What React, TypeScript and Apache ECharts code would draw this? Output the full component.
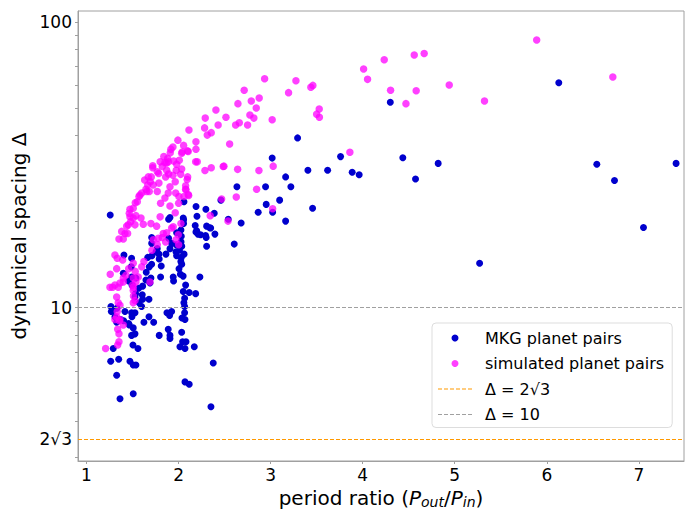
import React, { useEffect, useRef } from "react";
import * as echarts from "echarts";

const TWO_SQRT3 = 2 * Math.sqrt(3);

const xTicks = [1, 2, 3, 4, 5, 6, 7];
const yLabelTicks = [TWO_SQRT3, 10, 100];
const yMinorTicks = [3, 4, 5, 6, 7, 8, 9, 10, 20, 30, 40, 50, 60, 70, 80, 90, 100];

// [period ratio, dynamical spacing]
const mkgPairs: number[][] = [
  [4.30, 52.4], [6.13, 61.3], [3.76, 33.8], [3.886, 29.8], [3.962, 29.2], [4.436, 33.5], [4.574, 28.2],
  [4.82, 32.0], [6.543, 31.8], [6.735, 27.9], [7.404, 32.0], [7.05, 19.1], [5.27, 14.3],
  [3.293, 39.3], [3.017, 33.4], [3.405, 30.3], [3.619, 30.3], [3.163, 28.7], [3.22, 26.5], [2.945, 26.5],
  [2.634, 26.5], [3.098, 23.8], [2.952, 23.0], [2.865, 21.6], [3.022, 21.6], [3.163, 20.1], [3.456, 22.3],
  [2.46, 23.8], [2.059, 23.5], [2.19, 22.6], [2.2, 20.9], [2.388, 21.4], [2.54, 20.4], [2.68, 19.8],
  [2.338, 19.05], [2.294, 17.9], [2.395, 18.1], [2.181, 19.4], [2.197, 18.6], [2.211, 18.1], [2.605, 16.7],
  [2.305, 16.4], [1.258, 21.1], [2.051, 20.6], [2.297, 22.1], [2.189, 18.4], [2.24, 18.0], [2.305, 19.3],
  [2.349, 19.0], [2.30, 17.6], [1.907, 20.7], [2.055, 20.3], [2.055, 19.7], [2.026, 18.7], [1.979, 18.3],
  [1.708, 17.6], [1.708, 16.8], [1.892, 17.5], [1.925, 16.8], [1.975, 16.6], [2.03, 17.8], [2.027, 17.0],
  [2.035, 16.4], [2.01, 15.9], [2.06, 15.4], [2.03, 15.0], [2.025, 14.5], [2.035, 14.2], [2.005, 13.7],
  [1.787, 15.4], [1.79, 14.8], [1.863, 15.4], [1.907, 16.1], [1.972, 15.7], [1.979, 15.2], [1.665, 15.0],
  [1.711, 15.2], [1.755, 15.7], [1.708, 14.2], [1.649, 13.3], [1.682, 13.9], [1.812, 14.0], [1.805, 12.8],
  [1.70, 12.7], [1.646, 12.5], [1.69, 12.2], [1.61, 11.9], [1.942, 12.8], [1.946, 12.4], [2.02, 13.1],
  [2.05, 12.9], [2.077, 12.0], [2.232, 12.8], [1.407, 15.3], [1.49, 14.9], [1.486, 13.9], [1.40, 13.2],
  [1.49, 12.8], [1.537, 12.7], [1.458, 12.4], [1.494, 12.0], [1.567, 11.7], [1.534, 11.2], [1.606, 11.1],
  [1.61, 10.7], [1.527, 10.9], [2.051, 11.4], [2.116, 11.3], [2.186, 11.2], [2.066, 10.8], [2.058, 10.4],
  [2.066, 10.1], [1.266, 10.1], [1.288, 9.8], [1.27, 9.7], [1.331, 9.95], [1.573, 10.4], [1.599, 10.1],
  [1.527, 9.6], [1.494, 9.3], [1.458, 8.8], [1.679, 10.7], [1.874, 9.6], [1.925, 9.7], [1.903, 9.4],
  [1.371, 9.1], [1.404, 9.0], [1.624, 8.9], [1.73, 8.9], [2.037, 9.2], [2.07, 9.1], [1.309, 9.3],
  [1.328, 8.9], [1.418, 9.7], [1.49, 9.6], [1.465, 8.7], [1.508, 8.5], [1.527, 8.1], [1.49, 8.0],
  [1.559, 7.2], [1.505, 7.4], [1.291, 7.2], [1.263, 6.5], [1.35, 6.6], [1.328, 5.8], [1.364, 4.8],
  [1.508, 5.0], [1.472, 6.5], [1.508, 6.3], [1.537, 6.3], [1.679, 9.3], [1.79, 8.0], [1.907, 8.0],
  [1.888, 8.4], [1.907, 7.8], [2.015, 7.3], [2.07, 7.2], [2.171, 7.3], [2.034, 8.2], [2.081, 7.6],
  [2.066, 9.6], [2.044, 7.6], [2.377, 6.4], [2.07, 5.5], [2.116, 5.4], [2.352, 4.5], [1.892, 20.4],
  [1.769, 16.1],
];

const simulatedPairs: number[][] = [
  [3.861, 35.0], [4.01, 68.5], [4.053, 63.0], [4.234, 73.8], [4.303, 57.7], [4.47, 51.8], [4.56, 76.7],
  [4.668, 77.6], [4.581, 57.5], [4.94, 60.2], [5.323, 52.9], [5.89, 86.5], [6.717, 64.2],
  [2.935, 63.3], [3.275, 62.3], [3.195, 56.6], [3.437, 59.1], [3.459, 60.0], [3.528, 49.6], [3.50, 47.6],
  [3.53, 46.4], [2.713, 57.7], [2.79, 52.9], [2.876, 54.2], [2.844, 50.0], [2.645, 51.8], [2.775, 47.3],
  [2.818, 46.1], [2.75, 43.6], [2.62, 43.6], [2.66, 44.4], [3.017, 45.5], [2.406, 49.2], [2.29, 46.1],
  [2.515, 46.4], [2.43, 43.6], [2.283, 42.6], [2.355, 41.0], [2.312, 40.2], [2.113, 41.9], [1.993, 38.6],
  [2.555, 37.4], [1.917, 35.9], [1.939, 36.5], [2.055, 37.0], [2.04, 35.1], [2.098, 35.4], [2.189, 38.1],
  [2.189, 35.9], [1.84, 33.8], [1.72, 31.4], [1.72, 30.9], [1.80, 32.4], [1.87, 32.1], [1.89, 32.4],
  [1.947, 32.6], [2.008, 32.8], [1.975, 30.3], [2.186, 32.4], [2.203, 32.4], [2.287, 30.2], [2.355, 30.9],
  [2.485, 31.2], [2.642, 30.5], [2.873, 30.2], [3.028, 31.3], [2.848, 26.0], [2.627, 24.4], [2.468, 24.0],
  [3.022, 22.2], [2.537, 20.1], [2.344, 21.0], [1.632, 28.0], [1.671, 28.7], [1.725, 26.9], [1.654, 25.5],
  [1.581, 24.8], [1.552, 23.5], [1.508, 22.3], [1.472, 20.8], [1.454, 19.5], [1.418, 18.2], [1.353, 17.4],
  [1.309, 15.3], [1.784, 29.5], [1.86, 28.7], [1.907, 26.5], [1.969, 25.2], [2.099, 28.7], [2.077, 26.0],
  [2.11, 24.7], [2.023, 29.3], [2.034, 30.6], [1.80, 20.8], [1.942, 19.2], [1.997, 18.0], [1.834, 18.2],
  [1.725, 17.3], [2.493, 31.3], [2.105, 35.2], [2.034, 34.7], [1.979, 31.8], [1.91, 34.9], [1.882, 33.3],
  [1.852, 32.2], [1.823, 31.2], [1.871, 30.3], [1.892, 29.4], [1.939, 29.1], [1.964, 27.6], [2.094, 28.1],
  [2.077, 26.7], [2.105, 24.9], [1.769, 29.9], [1.704, 28.7], [1.693, 27.6], [1.665, 26.9], [1.646, 26.0],
  [1.682, 25.5], [1.60, 25.2], [1.57, 24.5], [1.53, 23.3], [1.787, 27.3], [1.769, 25.5], [1.805, 23.2],
  [1.852, 24.2], [1.888, 25.2], [1.907, 22.7], [2.001, 23.2], [2.004, 24.5], [2.059, 24.5], [2.08, 25.9],
  [2.026, 19.7], [1.964, 21.5], [1.472, 22.1], [1.465, 21.4], [1.508, 20.6], [1.537, 21.0], [1.592, 20.6],
  [1.617, 19.6], [1.527, 19.5], [1.48, 20.0], [1.436, 19.3], [1.382, 18.5], [1.40, 17.4], [1.447, 18.2],
  [1.70, 19.7], [1.762, 19.3], [1.78, 17.5], [1.823, 17.6], [1.871, 18.3], [1.86, 17.0], [1.769, 16.6],
  [1.711, 15.9], [1.925, 19.0], [1.972, 17.3], [2.001, 16.6], [1.334, 14.9], [1.393, 14.7], [1.328, 13.7],
  [1.258, 13.1], [1.284, 11.8], [1.345, 11.8], [1.40, 12.7], [1.429, 13.0], [1.458, 13.7], [1.508, 14.3],
  [1.53, 13.4], [1.508, 12.7], [1.502, 12.0], [1.537, 12.3], [1.562, 12.8], [1.60, 13.9], [1.624, 14.5],
  [1.508, 11.5], [1.527, 10.6], [1.328, 10.9], [1.345, 10.4], [1.334, 9.7], [1.364, 9.1], [1.40, 8.7],
  [1.328, 9.3], [1.255, 11.8], [1.309, 12.0], [1.364, 12.2], [1.40, 12.3], [1.364, 10.2], [1.309, 9.1],
  [1.356, 9.0], [1.339, 8.4], [1.353, 8.1], [1.353, 7.6], [1.339, 7.4], [1.208, 7.2], [1.508, 11.8],
  [1.508, 10.4], [1.51, 11.0], [1.69, 12.3],
];

const FONT = "DejaVu Sans";
const ORANGE = "#ff9900";
const GRAY = "#a0a0a0";
const DASH_ICON = "path://M0,0h4v1h-4z M6,0h4v1h-4z M12,0h4v1h-4z M18,0h4v1h-4z M24,0h4v1h-4z M30,0h4v1h-4z";

export default function App() {
  const ref = useRef<HTMLDivElement>(null);
  useEffect(() => {
    document.body.style.margin = "0";
    const chart = echarts.init(ref.current!, null, { renderer: "svg" });
    chart.setOption({
      animation: false,
      textStyle: { fontFamily: FONT },
      grid: {
        left: 78, right: 7, top: 11, bottom: 49,
        outerBoundsMode: "none",
        containLabel: false,
        show: true, borderColor: GRAY, borderWidth: 1, backgroundColor: "transparent",
      },
      legend: {
        orient: "vertical",
        left: 432,
        top: 323,
        padding: [7, 8, 5, 6],
        itemGap: 9.5,
        itemWidth: 34,
        itemHeight: 7,
        symbolKeepAspect: true,
        borderColor: "#dddddd",
        borderWidth: 1,
        borderRadius: 4,
        backgroundColor: "rgba(255,255,255,0.8)",
        textStyle: { fontFamily: FONT, fontSize: 16, color: "#000", padding: [0, 0, 0, 8] },
        data: [
          { name: "MKG planet pairs", icon: "circle" },
          { name: "simulated planet pairs", icon: "circle" },
          { name: "Δ = 2√3", icon: DASH_ICON },
          { name: "Δ = 10", icon: DASH_ICON },
        ],
      },
      xAxis: {
        type: "value",
        min: 0.908,
        max: 7.49,
        splitLine: { show: false },
        axisLine: { show: true, onZero: false, lineStyle: { color: GRAY } },
        axisTick: { show: true, customValues: xTicks, length: 3, lineStyle: { color: GRAY } },
        axisLabel: { customValues: xTicks, fontSize: 17, color: "#000", margin: 5, fontFamily: FONT },
        name: "{n|period ratio (}{i|P}{s|out}{n|/}{i|P}{s|in}{n|)}",
        nameLocation: "middle",
        nameGap: 24,
        nameTextStyle: {
          fontFamily: FONT,
          color: "#000",
          rich: {
            n: { fontSize: 20, fontFamily: FONT, color: "#000", lineHeight: 22 },
            i: { fontSize: 20, fontFamily: FONT, fontStyle: "italic", color: "#000", lineHeight: 22 },
            s: { fontSize: 14, fontFamily: FONT, fontStyle: "italic", color: "#000", lineHeight: 14, verticalAlign: "bottom" },
          },
        },
      },
      yAxis: {
        type: "log",
        logBase: 10,
        min: 2.907,
        max: 109.3,
        splitLine: { show: false },
        minorTick: { show: false },
        minorSplitLine: { show: false },
        axisLine: { show: true, onZero: false, lineStyle: { color: GRAY } },
        axisTick: { show: true, customValues: yMinorTicks, length: 3, lineStyle: { color: GRAY } },
        axisLabel: {
          customValues: yLabelTicks,
          fontSize: 17,
          color: "#000",
          margin: 6,
          fontFamily: FONT,
          formatter: (v: number) => (Math.abs(v - TWO_SQRT3) < 0.01 ? "2√3" : String(Math.round(v))),
        },
        name: "dynamical spacing Δ",
        nameLocation: "middle",
        nameGap: 36,
        nameTextStyle: { fontSize: 20, color: "#000", fontFamily: FONT },
      },
      series: [
        {
          name: "MKG planet pairs",
          type: "scatter",
          data: mkgPairs,
          symbol: "circle",
          symbolSize: 7,
          itemStyle: { color: "#0000cd", opacity: 1 },
          z: 3,
        },
        {
          name: "simulated planet pairs",
          type: "scatter",
          data: simulatedPairs,
          symbol: "circle",
          symbolSize: 7.5,
          itemStyle: { color: "#ff00ff", opacity: 0.75 },
          z: 4,
        },
        {
          name: "Δ = 2√3",
          type: "line",
          data: [],
          symbol: "none",
          color: ORANGE,
          itemStyle: { color: ORANGE },
          lineStyle: { color: ORANGE, width: 1, type: [4, 2] },
          markLine: {
            silent: true,
            symbol: "none",
            label: { show: false },
            lineStyle: { color: ORANGE, width: 1.2, type: [4, 2], opacity: 1 },
            data: [{ yAxis: TWO_SQRT3 }],
          },
          z: 5,
        },
        {
          name: "Δ = 10",
          type: "line",
          data: [],
          symbol: "none",
          color: GRAY,
          itemStyle: { color: GRAY },
          lineStyle: { color: GRAY, width: 1, type: [4, 2] },
          markLine: {
            silent: true,
            symbol: "none",
            label: { show: false },
            lineStyle: { color: GRAY, width: 1, type: [4, 2], opacity: 1 },
            data: [{ yAxis: 10 }],
          },
          z: 2,
        },
      ],
    });
    return () => chart.dispose();
  }, []);
  return <div ref={ref} style={{ width: 691, height: 510 }} />;
}
